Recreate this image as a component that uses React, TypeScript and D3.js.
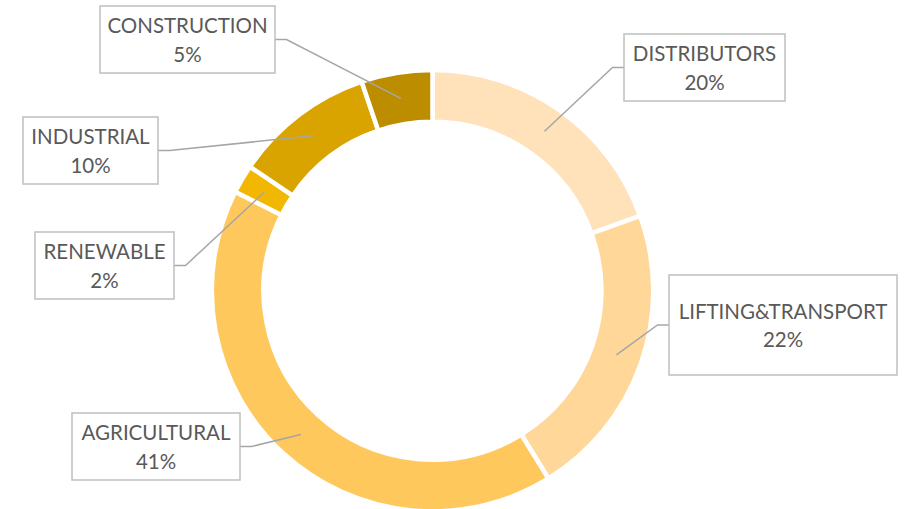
import React from "react";
import * as d3 from "d3";

const categories = ["DISTRIBUTORS", "LIFTING&TRANSPORT", "AGRICULTURAL", "RENEWABLE", "INDUSTRIAL", "CONSTRUCTION"];
const values = [19.5, 21.7, 41.2, 2.1, 10.3, 5.2];
const labels = ["20%", "22%", "41%", "2%", "10%", "5%"];
const colors = ["#FFE1BA", "#FFD799", "#FFC85C", "#F2B700", "#DAA400", "#BD8D00"];

// label box layout: [x, y, w, h, side] side: 1 = line leaves from left edge, -1 = right edge
const boxes: [number, number, number, number, number][] = [
  [624, 34, 161, 67, 1],
  [669, 275, 228, 100, 1],
  [72, 413, 168, 67, -1],
  [35, 232, 139, 67, -1],
  [23, 117, 135, 67, -1],
  [100, 6, 175, 67, -1],
];

const W = 909, H = 509;
const cx = 432.5, cy = 290.7, R = 220.7, r = 169;

export default function App() {
  const pie = d3.pie<number>().sort(null).value((d) => d)(values);
  const arc = d3.arc<d3.PieArcDatum<number>>().innerRadius(r).outerRadius(R);
  return (
    <svg width={W} height={H} style={{ position: "absolute", left: 0, top: 0, background: "#fff" }}>
      <g transform={`translate(${cx},${cy})`}>
        {pie.map((p, i) => (
          <path key={i} d={arc(p) || ""} fill={colors[i]} stroke="#fff" strokeWidth={4.5} />
        ))}
      </g>
      {pie.map((p, i) => {
        const [bx, by, bw, bh, side] = boxes[i];
        const c = arc.centroid(p);
        const ex = cx + c[0], ey = cy + c[1];
        const ay = by + bh / 2;
        const ax = side === 1 ? bx : bx + bw;
        const kx = ax - side * 11.5;
        return (
          <g key={i}>
            <polyline points={`${ax},${ay} ${kx},${ay} ${ex},${ey}`} fill="none" stroke="#A6A6A6" strokeWidth={1.5} />
            <rect x={bx} y={by} width={bw} height={bh} fill="#fff" stroke="#BFBFBF" strokeWidth={1.5} />
            <text x={bx + bw / 2} y={ay - 14.4} textAnchor="middle" dominantBaseline="central"
              fontFamily="Lato, 'Open Sans', sans-serif" fontSize={20.5} fill="#595959">{categories[i]}</text>
            <text x={bx + bw / 2} y={ay + 14.4} textAnchor="middle" dominantBaseline="central"
              fontFamily="Lato, 'Open Sans', sans-serif" fontSize={20.5} fill="#595959">{labels[i]}</text>
          </g>
        );
      })}
    </svg>
  );
}
